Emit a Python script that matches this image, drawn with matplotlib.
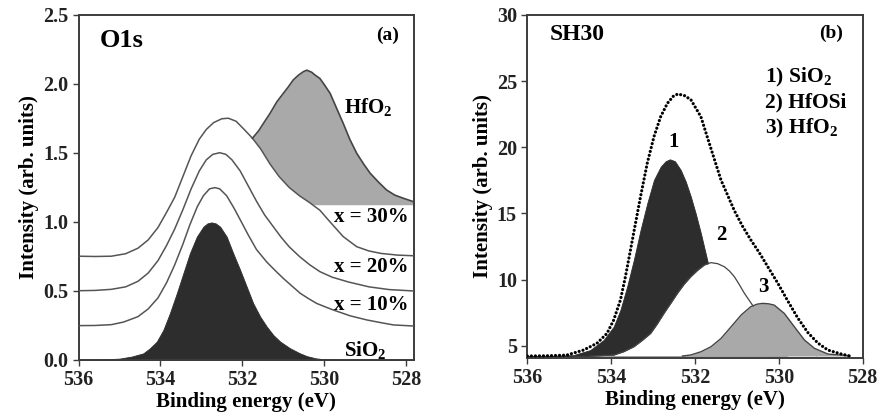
import numpy as np
import matplotlib
matplotlib.use("Agg")
import matplotlib.pyplot as plt

plt.rcParams['font.family'] = ['Liberation Serif', 'DejaVu Serif']
plt.rcParams['font.weight'] = 'bold'
plt.rcParams['mathtext.fontset'] = 'custom'
plt.rcParams['mathtext.rm'] = 'Liberation Serif:bold'
plt.rcParams['mathtext.bf'] = 'Liberation Serif:bold'
plt.rcParams['mathtext.default'] = 'bf'

# ---- panel (a): O1s spectra ----
sio2_e = [536.0, 535.5, 535.0, 534.7, 534.42, 534.26, 534.09, 533.93, 533.77, 533.6,
          533.44, 533.28, 533.11, 532.95, 532.85, 532.75, 532.65, 532.54, 532.38, 532.22,
          532.05, 531.89, 531.73, 531.56, 531.4, 531.24, 531.07, 530.83, 530.6, 530.42,
          530.2, 530.0, 529.5, 527.8]
sio2_i = [0.0, 0.002, 0.01, 0.025, 0.048, 0.084, 0.133, 0.217, 0.338, 0.483,
          0.628, 0.773, 0.894, 0.966, 0.99, 0.997, 0.99, 0.966, 0.894, 0.773,
          0.652, 0.531, 0.41, 0.314, 0.242, 0.181, 0.133, 0.085, 0.05, 0.028,
          0.012, 0.005, 0.0, 0.0]

x10_e = [536.0, 535.6, 535.2, 534.9, 534.55, 534.3, 534.06, 533.85, 533.65, 533.45,
         533.28, 533.1, 532.95, 532.8, 532.67, 532.55, 532.38, 532.2, 532.02, 531.86,
         531.65, 531.4, 531.2, 530.99, 530.78, 530.58, 530.38, 530.18, 529.97, 529.77,
         529.36, 528.95, 528.6, 528.3, 527.8]
x10_i = [0.249, 0.25, 0.256, 0.275, 0.314, 0.37, 0.45, 0.56, 0.69, 0.84,
         0.98, 1.11, 1.19, 1.24, 1.249, 1.24, 1.19, 1.1, 1.0, 0.91,
         0.8, 0.71, 0.65, 0.59, 0.535, 0.483, 0.445, 0.41, 0.385, 0.362,
         0.32, 0.29, 0.27, 0.254, 0.246]

x20_e = [536.0, 535.6, 535.2, 534.85, 534.55, 534.3, 534.06, 533.85, 533.65, 533.45,
         533.25, 533.05, 532.88, 532.72, 532.55, 532.4, 532.25, 532.05, 531.85, 531.65,
         531.45, 531.25, 531.05, 530.85, 530.6, 530.35, 530.1, 529.8, 529.4, 528.9,
         528.4, 527.8]
x20_i = [0.502, 0.504, 0.512, 0.53, 0.57, 0.63, 0.72, 0.83, 0.95, 1.09,
         1.24, 1.37, 1.45, 1.49, 1.502, 1.49, 1.45, 1.37, 1.26, 1.15,
         1.05, 0.97, 0.89, 0.82, 0.75, 0.69, 0.64, 0.6, 0.565, 0.53,
         0.51, 0.5]

x30_e = [536.0, 535.6, 535.2, 534.85, 534.55, 534.3, 534.06, 533.85, 533.65, 533.45,
         533.25, 533.05, 532.88, 532.7, 532.5, 532.34, 532.15, 531.95, 531.75, 531.55,
         531.32, 531.1, 530.85, 530.6, 530.35, 530.1, 529.85, 529.53, 529.2, 528.9,
         528.6, 528.2, 527.8]
x30_i = [0.752, 0.75, 0.752, 0.77, 0.81, 0.87, 0.96, 1.07, 1.18, 1.33,
         1.48, 1.6, 1.67, 1.72, 1.748, 1.752, 1.73, 1.67, 1.607, 1.53,
         1.42, 1.33, 1.25, 1.19, 1.14, 1.085, 1.0, 0.894, 0.821, 0.79,
         0.772, 0.76, 0.755]

hfo2_e = [531.75, 531.6, 531.48, 531.32, 531.155, 531.0, 530.87, 530.75, 530.62, 530.5,
          530.42, 530.3, 530.22, 530.1, 529.98, 529.85, 529.7, 529.53, 529.37, 529.2,
          529.03, 528.87, 528.67, 528.47, 528.27, 528.06, 527.81]
hfo2_i = [1.607, 1.66, 1.715, 1.787, 1.87, 1.93, 1.98, 2.03, 2.065, 2.09,
          2.10, 2.085, 2.065, 2.04, 1.99, 1.932, 1.83, 1.715, 1.6, 1.498,
          1.42, 1.353, 1.29, 1.232, 1.195, 1.172, 1.147]
hfo2_floor = 1.125

# ---- panel (b): SH30 fit ----
env_e = [536.0, 535.5, 535.06, 534.66, 534.34, 534.1, 533.94, 533.78, 533.66, 533.54,
         533.42, 533.3, 533.14, 532.98, 532.82, 532.66, 532.52, 532.41, 532.25, 532.1,
         531.86, 531.66, 531.38, 531.06, 530.87, 530.67, 530.47, 530.27, 530.03, 529.79,
         529.55, 529.31, 529.07, 528.83, 528.51, 528.3]
env_i = [4.22, 4.24, 4.29, 4.67, 5.18, 5.93, 6.94, 8.45, 10.22, 12.23,
         14.25, 16.27, 18.79, 20.8, 22.31, 23.32, 23.85, 24.03, 23.9, 23.6,
         22.31, 20.3, 17.52, 15.2, 14.05, 13.0, 12.05, 11.0, 9.75, 8.4,
         7.1, 6.0, 5.2, 4.67, 4.37, 4.22]

p1_e = [536.0, 535.4, 534.9, 534.5, 534.18, 533.94, 533.78, 533.62, 533.46, 533.3,
        533.14, 532.98, 532.82, 532.7, 532.6, 532.48, 532.34, 532.22, 532.1, 531.98,
        531.86, 531.7, 531.46, 531.2, 530.9, 530.6, 530.2, 529.8]
p1_i = [4.22, 4.24, 4.29, 4.67, 5.43, 6.44, 7.7, 9.46, 11.48, 13.74,
        15.76, 17.53, 18.53, 18.95, 19.09, 18.95, 18.28, 17.4, 16.27, 14.95,
        13.49, 11.35, 8.7, 6.5, 5.2, 4.6, 4.3, 4.22]

p2_e = [534.5, 533.94, 533.7, 533.46, 533.26, 533.06, 532.9, 532.74, 532.58, 532.42,
        532.26, 532.1, 531.94, 531.78, 531.62, 531.46, 531.3, 531.18, 531.06, 530.94,
        530.82, 530.63, 530.4, 530.1, 529.8, 529.5, 529.1]
p2_i = [4.22, 4.29, 4.55, 4.92, 5.4, 5.93, 6.65, 7.45, 8.2, 8.96,
        9.65, 10.22, 10.7, 11.1, 11.28, 11.2, 10.97, 10.65, 10.21, 9.6,
        8.95, 8.07, 7.1, 5.9, 5.0, 4.5, 4.25]

p3_e = [532.3, 532.1, 531.86, 531.62, 531.38, 531.14, 530.9, 530.67, 530.52, 530.39,
        530.25, 530.11, 529.87, 529.63, 529.39, 529.15, 528.83, 528.51, 528.3]
p3_i = [4.22, 4.3, 4.54, 4.92, 5.55, 6.43, 7.32, 7.95, 8.14, 8.2,
        8.17, 8.07, 7.44, 6.43, 5.43, 4.8, 4.37, 4.29, 4.22]
base_b = 4.22

legend_lines = ['1) SiO$_2$', '2) HfOSi', '3) HfO$_2$']

spine_col = '#3c3c3c'
line_col = '#555555'
dark = '#2d2d2d'
grey = '#a9a9a9'


def style_axes(ax):
    for s in ax.spines.values():
        s.set_color(spine_col)
        s.set_linewidth(1.4)
    ax.tick_params(direction='out', length=4, width=1, colors=spine_col,
                   labelcolor='#222222', labelsize=14.5)
    for lab in ax.get_xticklabels() + ax.get_yticklabels():
        lab.set_fontweight('bold')
    ax.set_xlabel('Binding energy (eV)', fontsize=15, fontweight='bold', labelpad=1)
    ax.set_ylabel('Intensity (arb. units)', fontsize=15, fontweight='bold', labelpad=3)


fig = plt.figure(figsize=(8.77, 4.2), dpi=100)

# panel (a)
ax1 = fig.add_axes([0.0897, 0.1429, 0.3823, 0.8214])
ax1.fill_between(sio2_e, sio2_i, 0, color=dark, lw=0.6, edgecolor=dark, zorder=1)
for e, i in [(x10_e, x10_i), (x20_e, x20_i), (x30_e, x30_i)]:
    ax1.plot(e, i, color=line_col, lw=1.1, zorder=3)
lower = np.maximum(np.interp(hfo2_e[::-1], x30_e[::-1], x30_i[::-1])[::-1], hfo2_floor)
ax1.fill_between(hfo2_e, hfo2_i, lower, color=grey, lw=0, zorder=2)
ax1.plot(hfo2_e, hfo2_i, color='#444444', lw=1.2, zorder=3)
ax1.set_xlim(536, 527.8)
ax1.set_ylim(0, 2.5)
ax1.set_xticks([536, 534, 532, 530, 528])
ax1.set_yticks([0.0, 0.5, 1.0, 1.5, 2.0, 2.5])
ax1.set_yticklabels(['%.1f' % v for v in [0.0, 0.5, 1.0, 1.5, 2.0, 2.5]])
style_axes(ax1)
ax1.text(0.064, 0.927, 'O1s', transform=ax1.transAxes, fontsize=19, ha='left', va='center')
ax1.text(0.955, 0.942, '(a)', transform=ax1.transAxes, fontsize=14, ha='right', va='center')
ax1.text(528.92, 1.833, 'HfO$_2$', fontsize=15, ha='center', va='center')
ax1.text(527.94, 1.036, 'x = 30%', fontsize=15, ha='right', va='center')
ax1.text(527.94, 0.674, 'x = 20%', fontsize=15, ha='right', va='center')
ax1.text(527.94, 0.399, 'x = 10%', fontsize=15, ha='right', va='center')
ax1.text(529.0, 0.07, 'SiO$_2$', fontsize=15, ha='center', va='center')

# panel (b)
ax2 = fig.add_axes([0.6013, 0.1476, 0.3824, 0.8167])
ax2.fill_between(p1_e, p1_i, base_b, color=dark, lw=0.6, edgecolor=dark, zorder=1)
ax2.fill_between(p2_e, p2_i, base_b, color='white', lw=0, zorder=2)
ax2.plot(p2_e, p2_i, color='#444444', lw=0.9, zorder=3)
ax2.fill_between(p3_e, p3_i, base_b, color=grey, lw=0, zorder=4)
ax2.plot(p3_e, p3_i, color='#444444', lw=1.0, zorder=5)
ax2.plot(env_e, env_i, color='black', lw=2.3, linestyle=(0, (0.01, 1.25)),
         dash_capstyle='round', zorder=6)
ax2.set_xlim(536, 528)
ax2.set_ylim(4.07, 30)
ax2.set_xticks([536, 534, 532, 530, 528])
ax2.set_yticks([5, 10, 15, 20, 25, 30])
style_axes(ax2)
ax2.text(0.068, 0.942, 'SH30', transform=ax2.transAxes, fontsize=17, ha='left', va='center')
ax2.text(0.94, 0.947, '(b)', transform=ax2.transAxes, fontsize=14, ha='right', va='center')
for txt, yy in zip(legend_lines, [0.819, 0.746, 0.67]):
    ax2.text(0.708, yy, txt, transform=ax2.transAxes, fontsize=15.5, ha='left', va='center')
ax2.text(532.5, 20.4, '1', fontsize=15, ha='center', va='center')
ax2.text(531.38, 13.37, '2', fontsize=15, ha='center', va='center')
ax2.text(530.38, 9.46, '3', fontsize=15, ha='center', va='center')

fig.savefig('out.png', dpi=100)
